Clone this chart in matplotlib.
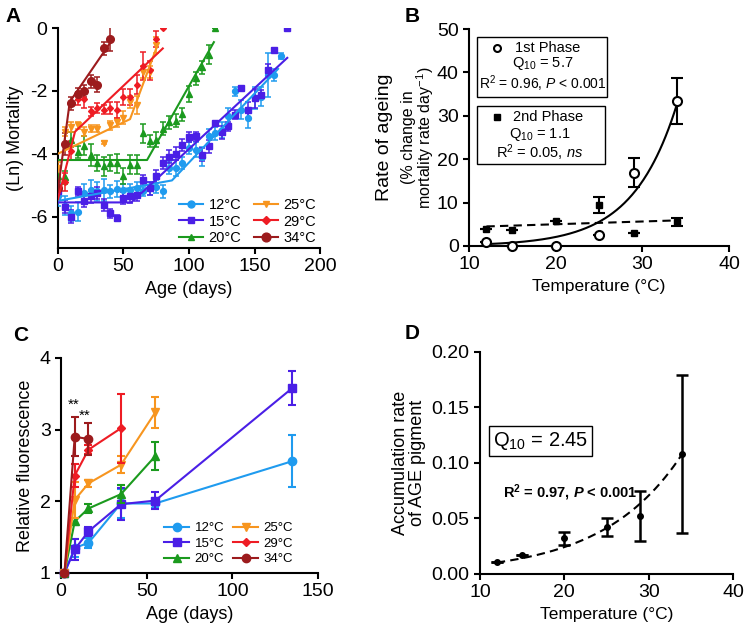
import matplotlib
matplotlib.use("Agg")
import matplotlib.pyplot as plt
import numpy as np
from matplotlib.lines import Line2D
from matplotlib.patches import Rectangle

plt.rcParams["font.family"] = ["Liberation Sans", "DejaVu Sans"]
plt.rcParams["mathtext.fontset"] = "custom"
plt.rcParams["mathtext.rm"] = "Liberation Sans"
plt.rcParams["mathtext.it"] = "Liberation Sans:italic"
plt.rcParams["mathtext.bf"] = "Liberation Sans:bold"
plt.rcParams["mathtext.bfit"] = "Liberation Sans:italic:bold"
plt.rcParams["axes.unicode_minus"] = False

# ---- colours / series labels
temps = ["12°C", "15°C", "20°C", "25°C", "29°C", "34°C"]
colors = ["#1f9bef", "#4a1fe6", "#1b9a1e", "#f7951f", "#ee1c24", "#9c1b1d"]
markers = ["o", "s", "^", "v", "D", "o"]

# ---- panel A: ln mortality vs age
a_age_12 = [0, 5, 10, 15, 20, 25, 30, 35, 40, 45, 50, 55, 60, 65, 70, 75, 80, 85,
            90, 95, 100, 105, 110, 115, 120, 125, 130, 135, 140, 145, 150, 155,
            160, 165, 170]
a_val_12 = [-5.35, -5.65, -5.9, -5.85, -5.25, -5.15, -5.2, -5.15, -5.2, -5.13,
            -5.15, -5.17, -5.1, -5.2, -5.1, -5.05, -5.2, -4.45, -4.45, -4.3,
            -3.82, -3.87, -4.1, -3.45, -3.35, -3.25, -2.8, -2.02, -2.6, -2.87,
            -2.23, -2.18, -1.5, -1.5, -0.9]
a_err_12 = [0.3, 0.3, 0.25, 0.3, 0.3, 0.3, 0.3, 0.35, 0.2, 0.25, 0.2, 0.2, 0.2,
            0.15, 0.2, 0.2, 0.2, 0.2, 0.25, 0.2, 0.2, 0.25, 0.3, 0.25, 0.2, 0.25,
            0.25, 0.15, 0.3, 0.3, 0.35, 0.3, 0.7, 0.2, 0.1]
a_age_15 = [0, 5, 10, 15, 20, 25, 30, 35, 40, 45, 50, 55, 60, 65, 70, 75, 80, 85,
            90, 95, 100, 105, 110, 115, 120, 125, 130, 135, 140, 145, 150, 155,
            160, 165, 175]
a_val_15 = [-5.2, -5.68, -6.0, -5.2, -5.5, -5.36, -5.25, -5.63, -5.9, -6.05,
            -5.41, -5.36, -5.3, -4.83, -5.1, -4.72, -4.3, -4.09, -4.0, -3.72,
            -3.47, -3.45, -4.03, -3.77, -3.03, -3.32, -3.13, -2.76, -1.91, -2.6,
            -2.23, -2.12, -1.35, -0.69, 0.0]
a_err_15 = [0.25, 0.2, 0.2, 0.15, 0.2, 0.2, 0.2, 0.2, 0.15, 0.1, 0.2, 0.2, 0.2,
            0.15, 0.2, 0.2, 0.2, 0.2, 0.2, 0.2, 0.15, 0.15, 0.2, 0.2, 0.05, 0.2,
            0.15, 0.15, 0.05, 0.25, 0.3, 0.15, 0.2, 0.05, 0.0]
a_age_20 = [0, 5, 10, 15, 20, 25, 30, 35, 40, 45, 50, 55, 60, 65, 70, 75, 80, 85,
            90, 95, 100, 105, 110, 115, 120]
a_val_20 = [-4.7, -4.75, -3.55, -3.95, -3.75, -4.05, -4.3, -4.4, -4.3, -4.3,
            -4.72, -4.35, -4.35, -3.35, -3.6, -3.55, -3.2, -3.0, -2.95, -2.75,
            -2.1, -1.6, -1.25, -0.85, 0.0]
a_err_20 = [0.2, 0.2, 0.25, 0.2, 0.3, 0.35, 0.25, 0.3, 0.25, 0.3, 0.25, 0.3,
            0.3, 0.3, 0.2, 0.25, 0.2, 0.2, 0.2, 0.2, 0.25, 0.2, 0.2, 0.3, 0.0]
a_age_25 = [0, 5, 10, 15, 20, 25, 30, 35, 40, 45, 50, 55, 60, 65, 70, 75]
a_val_25 = [-4.45, -3.3, -3.15, -3.1, -3.3, -3.2, -3.2, -3.65, -3.1, -3.0,
            -2.85, -2.35, -2.45, -1.4, -1.4, -0.55]
a_err_25 = [0.2, 0.15, 0.15, 0.1, 0.15, 0.1, 0.1, 0.05, 0.15, 0.15, 0.2, 0.2,
            0.3, 0.2, 0.2, 0.25]
a_age_29 = [0, 5, 10, 15, 20, 25, 30, 35, 40, 45, 50, 55, 60, 65, 70, 75, 80]
a_val_29 = [-5.1, -4.9, -3.9, -2.25, -2.25, -2.65, -2.55, -2.6, -2.55, -2.6,
            -2.2, -2.2, -1.8, -1.2, -1.35, -0.35, 0.0]
a_err_29 = [0.3, 0.3, 0.3, 0.2, 0.3, 0.15, 0.15, 0.15, 0.2, 0.25, 0.25, 0.25,
            0.3, 0.45, 0.3, 0.25, 0.0]
a_age_34 = [0, 5, 10, 15, 20, 25, 30, 35, 40]
a_val_34 = [-5.1, -3.7, -2.4, -2.1, -2.0, -1.7, -1.8, -0.65, -0.35]
a_err_34 = [0.25, 0.35, 0.2, 0.2, 0.2, 0.2, 0.25, 0.2, 0.37]

# segmented fits (break points)
fit_age = [[0, 87, 168], [0, 56, 175], [0, 68, 119], [0, 55, 75],
           [0, 13, 80], [0, 9, 41]]
fit_val = [[-5.5, -4.85, -1.3], [-5.55, -5.55, -0.95], [-4.2, -4.2, -0.45],
           [-4.0, -2.9, -0.65], [-5.45, -3.3, -0.65], [-5.15, -2.35, -0.4]]

# ---- panel B: rate of ageing vs temperature
b_temp = [12, 15, 20, 25, 29, 34]
b_phase1 = [0.85, 0.0, 0.0, 2.5, 16.9, 33.3]
b_phase1_err = [0, 0, 0, 0, 3.4, 5.3]
b_phase2 = [4.0, 3.6, 5.8, 9.4, 3.0, 5.5]
b_phase2_err = [0, 0, 0, 1.8, 0, 1.0]
b_fit1 = (0.43 / np.exp(0.197 * 12), 0.197)   # a*exp(b*T)
b_fit2 = ([12, 34], [4.5, 5.9])

# ---- panel C: relative fluorescence
c_age = [2, 8, 16, 35, 55, 135]
c_vals = [
    [1.0, 1.35, 1.42, 1.97, 1.97, 2.56],
    [1.0, 1.33, 1.58, 1.96, 2.01, 3.58],
    [1.0, 1.72, 1.90, 2.10, 2.63],
    [1.0, 2.02, 2.25, 2.51, 3.24],
    [1.0, 2.36, 2.72, 3.02],
    [1.0, 2.90, 2.87],
]
c_errs = [
    [0.0, 0.12, 0.07, 0.2, 0.07, 0.36],
    [0.0, 0.15, 0.06, 0.22, 0.12, 0.24],
    [0.0, 0.05, 0.06, 0.13, 0.2],
    [0.0, 0.25, 0.05, 0.12, 0.22],
    [0.0, 0.16, 0.06, 0.48],
    [0.0, 0.27, 0.22],
]

# ---- panel D: AGE pigment accumulation
d_temp = [12, 15, 20, 25, 29, 34]
d_rate = [0.0105, 0.0175, 0.032, 0.0425, 0.052, 0.108]
d_err = [0.0, 0.0, 0.0062, 0.008, 0.0225, 0.0715]
d_fit = (0.0103, 0.107)   # y = a*exp(b*(T-12))

LW = 1.5


def style_axis(ax):
    for s in ["top", "right"]:
        ax.spines[s].set_visible(False)
    for s in ["left", "bottom"]:
        ax.spines[s].set_linewidth(1.5)
    ax.tick_params(direction="out", length=4, width=1.5, labelsize=14)


fig = plt.figure(figsize=(7.47, 6.28), dpi=100)
axA = fig.add_axes([0.0776, 0.6051, 0.3508, 0.3503])
axB = fig.add_axes([0.628, 0.6083, 0.348, 0.3455])
axC = fig.add_axes([0.0817, 0.0876, 0.344, 0.3424])
axD = fig.add_axes([0.6426, 0.086, 0.3387, 0.3535])

# ---------------- A
a_ages = [a_age_12, a_age_15, a_age_20, a_age_25, a_age_29, a_age_34]
a_vals = [a_val_12, a_val_15, a_val_20, a_val_25, a_val_29, a_val_34]
a_errs = [a_err_12, a_err_15, a_err_20, a_err_25, a_err_29, a_err_34]
a_ms = [4.2, 4.2, 4.2, 4.2, 3.0, 5.5]
for i in range(6):
    axA.errorbar(a_ages[i], a_vals[i], yerr=a_errs[i], fmt=markers[i],
                 color=colors[i], ms=a_ms[i], capsize=2.5, elinewidth=1.1,
                 capthick=1.1, zorder=3)
    axA.plot(fit_age[i], fit_val[i], color=colors[i], lw=LW, zorder=4)
axA.set_xlim(0, 200)
axA.set_ylim(-7, 0)
axA.set_xticks([0, 50, 100, 150, 200])
axA.set_yticks([-6, -4, -2, 0])
axA.set_xlabel("Age (days)", fontsize=13)
axA.set_ylabel("(Ln) Mortality", fontsize=13)
style_axis(axA)
handles = [Line2D([], [], color=colors[i], marker=markers[i], ms=a_ms[i] + 0.8,
                  lw=LW) for i in range(6)]
axA.legend(handles, temps, ncol=2, loc="lower right", bbox_to_anchor=(1.035, -0.045),
           frameon=False, fontsize=10.5, handlelength=1.6, handletextpad=0.4,
           columnspacing=0.9, labelspacing=0.15)
fig.text(0.008, 0.965, "A", fontsize=15, fontweight="bold")

# ---------------- B
tt = np.linspace(12, 34, 200)
axB.plot(tt, b_fit1[0] * np.exp(b_fit1[1] * tt), color="black", lw=LW)
axB.plot(b_fit2[0], b_fit2[1], color="black", lw=LW, ls=(0, (4, 2.5)))
axB.errorbar(b_temp, b_phase1, yerr=b_phase1_err, fmt="o", mfc="white",
             mec="black", mew=1.5, ms=6.5, ecolor="black", elinewidth=1.5,
             capsize=4, capthick=1.5, zorder=5, clip_on=False)
axB.errorbar(b_temp, b_phase2, yerr=b_phase2_err, fmt="s", color="black",
             ms=4.5, elinewidth=1.5, capsize=4, capthick=1.5, zorder=5)
axB.set_xlim(10, 40)
axB.set_ylim(0, 50)
axB.set_xticks([10, 20, 30, 40])
axB.set_yticks([0, 10, 20, 30, 40, 50])
axB.set_xlabel("Temperature (°C)", fontsize=12.5)
style_axis(axB)
axB.text(-0.325, 0.5, "Rate of ageing", rotation=90, fontsize=14,
         transform=axB.transAxes, ha="center", va="center")
axB.text(-0.235, 0.5, "(% change in", rotation=90, fontsize=11.5,
         transform=axB.transAxes, ha="center", va="center")
axB.text(-0.168, 0.5, "mortality rate day$^{-1}$)", rotation=90, fontsize=11.5,
         transform=axB.transAxes, ha="center", va="center")
for (x0, y0, w, h) in [(0.031, 0.687, 0.5, 0.276), (0.031, 0.378, 0.492, 0.267)]:
    axB.add_patch(Rectangle((x0, y0), w, h, transform=axB.transAxes,
                            fill=False, lw=1.0, ec="black", clip_on=False))
axB.plot([0.108], [0.912], "o", mfc="white", mec="black", mew=1.5, ms=5,
         transform=axB.transAxes, clip_on=False)
axB.text(0.175, 0.912, "1st Phase", fontsize=10.5, transform=axB.transAxes,
         va="center")
axB.text(0.285, 0.839, "Q$_{10}$ = 5.7", fontsize=10.5, transform=axB.transAxes,
         ha="center", va="center")
axB.text(0.282, 0.747, "R$^{2}$ = 0.96, $P$ < 0.001", fontsize=10,
         transform=axB.transAxes, ha="center", va="center")
axB.plot([0.108], [0.594], "s", color="black", ms=4.5,
         transform=axB.transAxes, clip_on=False)
axB.text(0.17, 0.594, "2nd Phase", fontsize=10.5, transform=axB.transAxes,
         va="center")
axB.text(0.27, 0.516, "Q$_{10}$ = 1.1", fontsize=10.5, transform=axB.transAxes,
         ha="center", va="center")
axB.text(0.27, 0.429, "R$^{2}$ = 0.05, $ns$", fontsize=10.5,
         transform=axB.transAxes, ha="center", va="center")
fig.text(0.542, 0.965, "B", fontsize=15, fontweight="bold")

# ---------------- C
for i in range(6):
    n = len(c_vals[i])
    axC.errorbar(c_age[:n], c_vals[i], yerr=c_errs[i], fmt="-" + markers[i],
                 color=colors[i], ms=6 if markers[i] != "D" else 4, lw=LW,
                 capsize=3, elinewidth=1.5, capthick=1.5, clip_on=False,
                 zorder=3 + i)
axC.text(7.5, 3.35, "**", fontsize=11, ha="center", va="center")
axC.text(13.5, 3.2, "**", fontsize=11, ha="center", va="center")
axC.set_xlim(0, 150)
axC.set_ylim(1, 4)
axC.set_xticks([0, 50, 100, 150])
axC.set_yticks([1, 2, 3, 4])
axC.set_xlabel("Age (days)", fontsize=13)
axC.set_ylabel("Relative fluorescence", fontsize=13)
style_axis(axC)
handlesC = [Line2D([], [], color=colors[i], marker=markers[i],
                   ms=6 if markers[i] != "D" else 4, lw=LW) for i in range(6)]
axC.legend(handlesC, temps, ncol=2, loc="lower left", bbox_to_anchor=(0.355, -0.02),
           frameon=False, fontsize=9.5, handlelength=1.9, handletextpad=0.4,
           columnspacing=0.7, labelspacing=0.25)
fig.text(0.017, 0.457, "C", fontsize=15, fontweight="bold")

# ---------------- D
td = np.linspace(12, 34, 200)
axD.plot(td, d_fit[0] * np.exp(d_fit[1] * (td - 12)), color="black", lw=LW,
         ls=(0, (4, 2.5)))
axD.errorbar(d_temp, d_rate, yerr=d_err, fmt="o", color="black", ms=4,
             elinewidth=1.8, capsize=4, capthick=1.8, zorder=5)
axD.set_xlim(10, 40)
axD.set_ylim(0, 0.2)
axD.set_xticks([10, 20, 30, 40])
axD.set_yticks([0, 0.05, 0.10, 0.15, 0.20])
axD.set_yticklabels(["0.00", "0.05", "0.10", "0.15", "0.20"])
axD.set_xlabel("Temperature (°C)", fontsize=12.5)
axD.set_ylabel("Accumulation rate\nof AGE pigment", fontsize=13, linespacing=1.0)
style_axis(axD)
axD.text(0.24, 0.597, "Q$_{10}$ = 2.45", fontsize=14.5, transform=axD.transAxes,
         ha="center", va="center",
         bbox=dict(boxstyle="square,pad=0.2", fc="white", ec="black", lw=1.0))
axD.text(0.356, 0.365, "R$^{\\mathbf{2}}$ = 0.97, $\\mathbfit{P}$ < 0.001",
         fontsize=10.5, fontweight="bold", transform=axD.transAxes,
         ha="center", va="center")
fig.text(0.542, 0.46, "D", fontsize=15, fontweight="bold")

fig.savefig("out.png", dpi=100)
